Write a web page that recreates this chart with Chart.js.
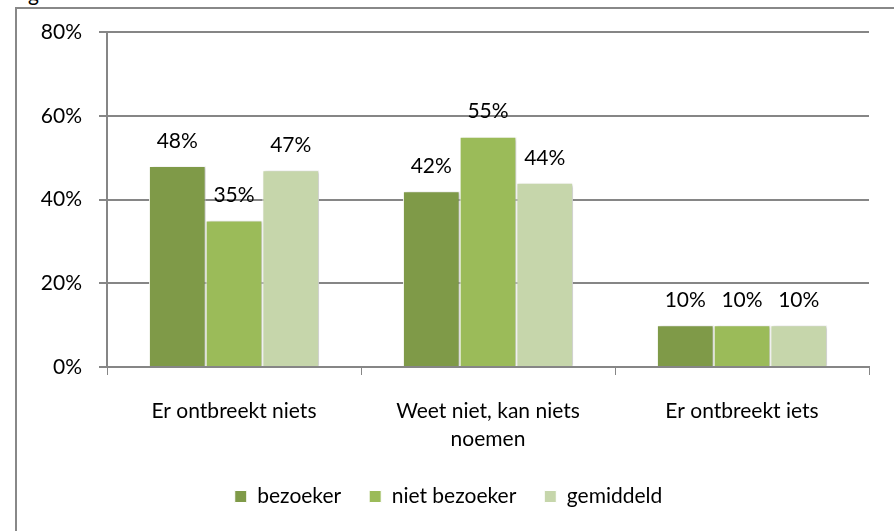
<!DOCTYPE html>
<html>
<head>
<meta charset="utf-8">
<script src="https://cdn.jsdelivr.net/npm/chart.js@4/dist/chart.umd.min.js"></script>
<style>
html,body{margin:0;padding:0;background:#fff;}
#wrap{position:relative;width:894px;height:531px;overflow:hidden;}
#frame{position:absolute;left:15px;top:7px;width:900px;height:600px;border-left:2px solid #888;border-top:2px solid #888;box-sizing:border-box;}
#cut{position:absolute;left:28px;top:-20px;font-family:Lato,sans-serif;font-size:21px;color:#000;}
canvas{position:absolute;left:0;top:0;}
</style>
</head>
<body>
<div id="wrap">
<div id="cut">g</div>
<div id="frame"></div>
<canvas id="c" width="894" height="531"></canvas>
</div>
<script>
const categories = ["Er ontbreekt niets", ["Weet niet, kan niets", "noemen"], "Er ontbreekt iets"];
const bezoeker = [48, 42, 10];
const nietBezoeker = [35, 55, 10];
const gemiddeld = [47, 44, 10];
const yTicks = [0, 20, 40, 60, 80];

const FONT = "Lato, 'Open Sans', sans-serif";
const FS = 21;

const labelPlugin = {
  id: 'valueLabels',
  afterDatasetsDraw(chart) {
    const ctx = chart.ctx;
    ctx.save();
    ctx.font = FS + "px " + FONT;
    ctx.fillStyle = "#000";
    ctx.textAlign = "center";
    ctx.textBaseline = "middle";
    chart.data.datasets.forEach((ds, i) => {
      chart.getDatasetMeta(i).data.forEach((bar, j) => {
        ctx.fillText(ds.data[j] + "%", bar.x, bar.y - 25);
      });
    });
    ctx.restore();
  }
};
const shadowPlugin = {
  id: 'barShadow',
  beforeDatasetsDraw(chart) {
    const ctx = chart.ctx;
    ctx.save();
    ctx.shadowColor = "rgba(0,0,0,0.25)";
    ctx.shadowBlur = 3;
    ctx.shadowOffsetX = 2;
    ctx.shadowOffsetY = 1;
  },
  afterDatasetsDraw(chart) {
    chart.ctx.restore();
  }
};
const legendShift = {
  id: 'legendShift',
  afterLayout(chart) {
    if (chart.legend) { chart.legend.left += 14; chart.legend.right += 14; }
  }
};

new Chart(document.getElementById('c'), {
  type: 'bar',
  data: {
    labels: categories,
    datasets: [
      {label: 'bezoeker', data: bezoeker, backgroundColor: '#7F9A48', borderColor: '#fff', borderWidth: 1},
      {label: 'niet bezoeker', data: nietBezoeker, backgroundColor: '#9BBB59', borderColor: '#fff', borderWidth: 1},
      {label: 'gemiddeld', data: gemiddeld, backgroundColor: '#C6D6AB', borderColor: '#fff', borderWidth: 1}
    ]
  },
  options: {
    responsive: false,
    animation: false,
    layout: {padding: {left: 0, right: 25, top: 32, bottom: 14}},
    datasets: {bar: {categoryPercentage: 0.67, barPercentage: 1.0}},
    plugins: {
      legend: {
        position: 'bottom',
        labels: {
          font: {family: FONT, size: FS},
          color: '#000',
          boxWidth: 12, boxHeight: 12,
          padding: 28
        }
      },
      tooltip: {enabled: false}
    },
    scales: {
      x: {
        grid: {drawOnChartArea: false, drawTicks: true, tickLength: 8, color: '#868686', offset: true},
        border: {color: '#868686', width: 2},
        ticks: {font: {family: FONT, size: FS, lineHeight: 1.3}, color: '#000', padding: 23, maxRotation: 0, autoSkip: false},
        afterFit(s) { s.height = 91; }
      },
      y: {
        min: 0, max: 80,
        afterBuildTicks(s) { s.ticks = yTicks.map(v => ({value: v})); },
        grid: {color: '#868686', lineWidth: 2, tickLength: 8},
        border: {color: '#868686', width: 2},
        ticks: {font: {family: FONT, size: FS}, color: '#000', padding: 17, callback: v => v + '%'},
        afterFit(s) { s.width = 107; }
      }
    }
  },
  plugins: [shadowPlugin, labelPlugin, legendShift]
});
</script>
</body>
</html>
